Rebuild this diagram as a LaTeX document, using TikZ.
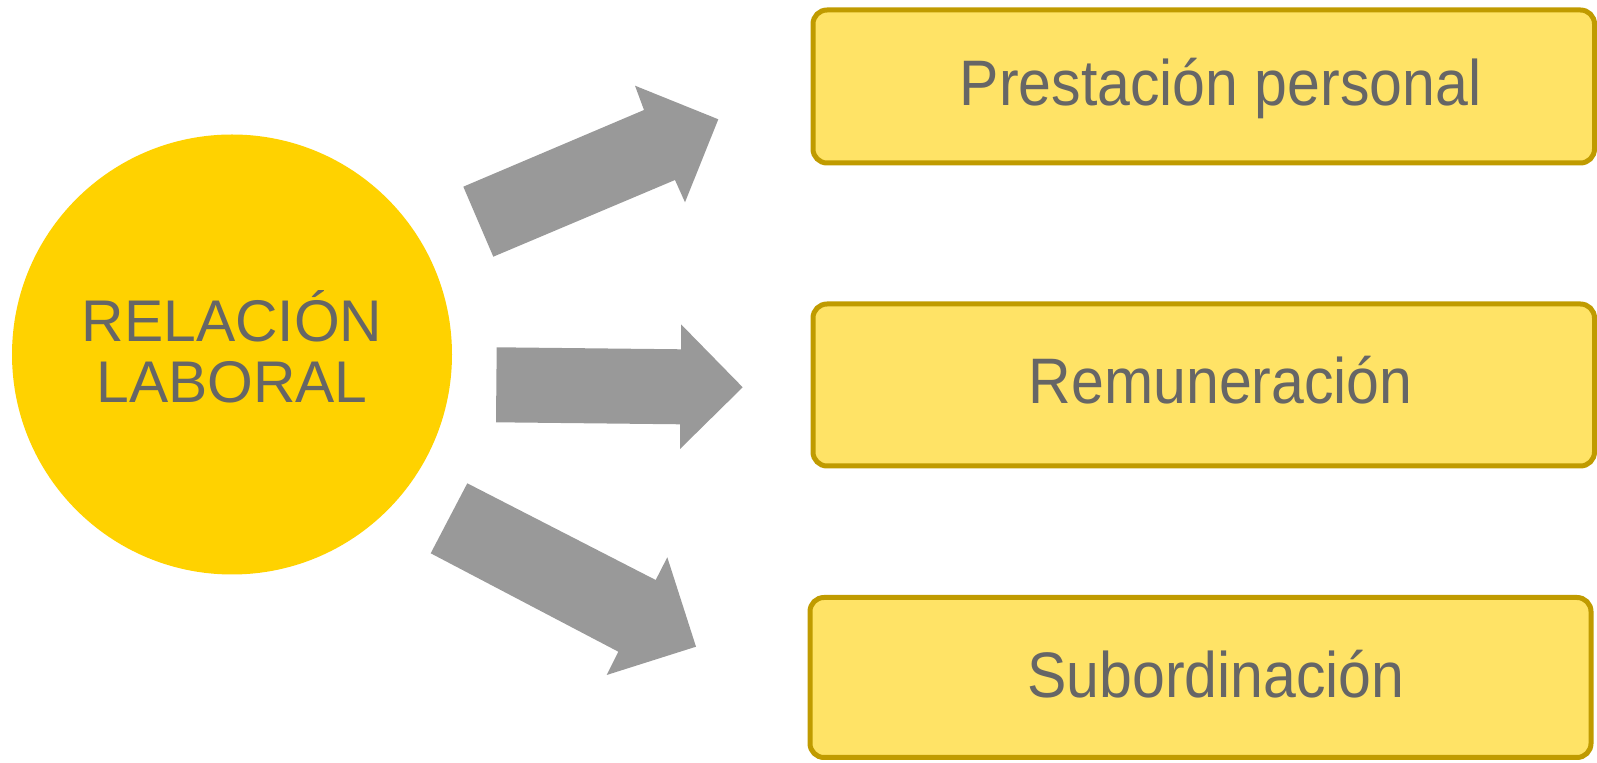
\documentclass[tikz,border=0pt]{standalone}
\usepackage{fontspec}
\setmainfont{Liberation Sans}
\definecolor{circfill}{RGB}{255,210,0}
\definecolor{boxfill}{RGB}{255,227,102}
\definecolor{boxline}{RGB}{192,155,0}
\definecolor{txtgray}{RGB}{102,102,102}
\definecolor{arrgray}{RGB}{153,153,153}
\begin{document}
\begin{tikzpicture}[x=0.5pt,y=-0.5pt,
  bigbox/.style={draw=boxline,fill=boxfill,line width=2.5pt,rounded corners=7pt},
  boxtext/.style={text=txtgray,font=\fontsize{29.5pt}{32pt}\selectfont,anchor=base,inner sep=0pt},
  circtext/.style={text=txtgray,font=\fontsize{29.4pt}{31pt}\selectfont,anchor=base,inner sep=0pt},
  blockarrow/.style={fill=arrgray,draw=none}]
\useasboundingbox (0,0) rectangle (1597,763);
% circle
\fill[circfill] (232,354.5) circle[radius=110pt];
\node[circtext] (c1) at (232,341.7) {RELACIÓN};
\node[circtext] (c2) at (232,403) {LABORAL};
% boxes
\draw[bigbox] (813,10) rectangle (1594.5,163);
\draw[bigbox] (813,304) rectangle (1594.5,466);
\draw[bigbox] (810,597.5) rectangle (1591,757.5);
\node[boxtext] (t1) at (1220.5,106) {\scalebox{1}[1.09]{Prestación personal}};
\node[boxtext] (t2) at (1220.7,403.3) {\scalebox{1}[1.09]{Remuneración}};
\node[boxtext] (t3) at (1216,697.7) {\scalebox{1}[1.09]{Subordinación}};
% arrows
\fill[blockarrow] (463.3,186.7) -- (644,110) -- (635,85.7) -- (718.3,119.3) -- (685,202.3) -- (675,180) -- (493.3,256.7) -- cycle;
\fill[blockarrow] (496.7,347.3) -- (681,349.3) -- (681,324.3) -- (742.7,387.3) -- (680,449) -- (680,424.3) -- (496,422.3) -- cycle;
\fill[blockarrow] (467.3,483.3) -- (655.7,580) -- (667.3,557.3) -- (696,646.7) -- (606.7,675) -- (618.3,651.7) -- (430.7,553.3) -- cycle;
\end{tikzpicture}
\end{document}
